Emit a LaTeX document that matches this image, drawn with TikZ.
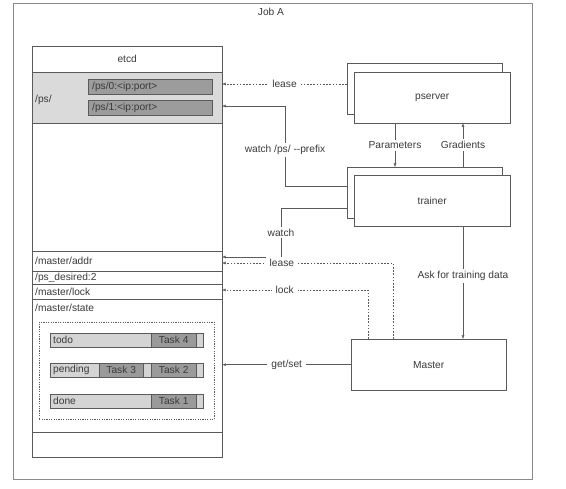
\documentclass[tikz,border=0pt]{standalone}
\usepackage{fontspec}
\setmainfont{Liberation Sans}
\usetikzlibrary{arrows.meta,positioning,shadows}

\definecolor{txt}{HTML}{3A3A3A}
\definecolor{line}{HTML}{5A5A5A}
\definecolor{frameline}{HTML}{8A8A8A}
\definecolor{psgray}{HTML}{DADADA}
\definecolor{keygray}{HTML}{9C9C9C}
\definecolor{barlight}{HTML}{D4D4D4}
\definecolor{bardark}{HTML}{9A9A9A}

\tikzset{
  row/.style={draw=line,anchor=north west,minimum width=190pt,inner ysep=0pt,
    inner xsep=3pt,text width=184pt,align=left},
  keybox/.style={draw=line,fill=keygray,anchor=north west,minimum width=124pt,
    minimum height=15pt,inner sep=0pt,text width=120pt,align=left},
  bar/.style={draw=line,fill=barlight,anchor=north west,minimum height=14pt,
    inner ysep=0pt,inner xsep=3pt,align=left},
  task/.style={draw=line,fill=bardark,anchor=north west,minimum width=45pt,
    minimum height=14pt,inner sep=0pt},
  box/.style={draw=line,fill=white,anchor=north west,minimum width=155pt,
    minimum height=51pt,inner sep=0pt,
    drop shadow={shadow xshift=0.8pt,shadow yshift=-1pt,opacity=0.35}},
  lbl/.style={fill=white,inner xsep=4pt,inner ysep=2pt},
  arr/.style={draw=line,-{Latex[length=3.5pt,width=3pt]}},
  lease/.style={arr,dash pattern=on 1.6pt off 1.6pt}
}

\begin{document}
\begin{tikzpicture}[x=1pt,y=-1pt,font=\fontsize{10.2}{12}\selectfont,text=txt]
\useasboundingbox (0,0) rectangle (566,489);

% The job frame
\draw[frameline] (13,3) rectangle (532,479);
\node (joblabel) at (271,12) {Job A};

% The etcd store
\fill[black,opacity=0.3] (33,47) rectangle (223,458);
\draw[line,fill=white] (32,46) rectangle (222,457);
\node[row,minimum height=26pt,align=center] (etcd) at (32,46) {etcd};
\node[row,fill=psgray,minimum height=51pt] (psreg) at (32,72) {};
\node[anchor=west,inner xsep=2pt] (pslabel) at (33,100) {/ps/};
\node[keybox] (ps0) at (88,79) {\hspace{2pt}/ps/0:<ip:port>};
\node[keybox] (ps1) at (88,100) {\hspace{2pt}/ps/1:<ip:port>};
\node[row,minimum height=20pt] (addr) at (32,251) {/master/addr};
\node[row,minimum height=13pt] (desired) at (32,271) {/ps\_desired:2};
\node[row,minimum height=15pt] (lockrow) at (32,284) {/master/lock};
\node[row,minimum height=133pt] (state) at (32,299) {};
\node[anchor=west,inner xsep=2pt] (statelabel) at (33,308) {/master/state};

% The task queues
\node[draw=line,dash pattern=on 1.2pt off 1.2pt,anchor=north west,
  minimum width=175pt,minimum height=97pt] (queues) at (39,322) {};
\node[bar,minimum width=153pt,text width=147pt] (todo) at (50,333) {todo};
\node[task] (task4) at (151,333) {Task 4};
\node[bar,minimum width=153pt,text width=147pt] (pending) at (50,363) {pending};
\node[task,minimum width=44pt] (task3) at (99,363) {Task 3};
\node[task] (task2) at (151,363) {Task 2};
\node[bar,minimum width=153pt,text width=147pt] (done) at (50,394) {done};
\node[task] (task1) at (151,394) {Task 1};

% The entry points on etcd
\coordinate (ps0in) at (222,84);
\coordinate (ps1in) at (222,106);
\coordinate (addrwatch) at (222,257);
\coordinate (addrlease) at (222,263);
\coordinate (lockin) at (222,290);

% The processes
\node[box] (psback) at (347,63) {};
\node[box,minimum width=156pt] (pserver) at (354,72) {pserver};
\node[box] (trback) at (347,167) {};
\node[box,minimum width=156pt] (trainer) at (354,175) {trainer};
\node[box] (master) at (351,339) {Master};

% Connectors from pserver and trainer
\draw[lease] (psback.west |- ps0in) -- node[lbl,pos=0.5] {lease} (ps0in);
\draw[arr] (trback.west |- 0,186) -- (285,186) --
  node[lbl,pos=0.45] {watch /ps/ -{}-prefix} (285,106) -- (ps1in);
\draw[arr] (pserver.south -| 395,0) -- node[lbl] {Parameters} (trback.north -| 395,0);
\draw[arr] (trback.north -| 463,0) -- node[lbl] {Gradients} (pserver.south -| 463,0);
\draw[arr] (trback.west |- 0,208) -- (281,208) --
  node[lbl,pos=0.5] {watch} (281,257) -- (addrwatch);
\draw[arr] (trainer.south -| 463,0) --
  node[lbl,pos=0.44] {Ask for training data} (master.north -| 463,0);

% Connectors from master
\draw[lease] (master.north -| 393,0) -- (393,263) --
  node[lbl,pos=0.65] {lease} (addrlease);
\draw[lease] (master.north -| 368,0) -- (368,290) --
  node[lbl,pos=0.57] {lock} (lockin);
\draw[arr] (master.west) -- node[lbl] {get/set} (master.west -| state.east);

\end{tikzpicture}
\end{document}
